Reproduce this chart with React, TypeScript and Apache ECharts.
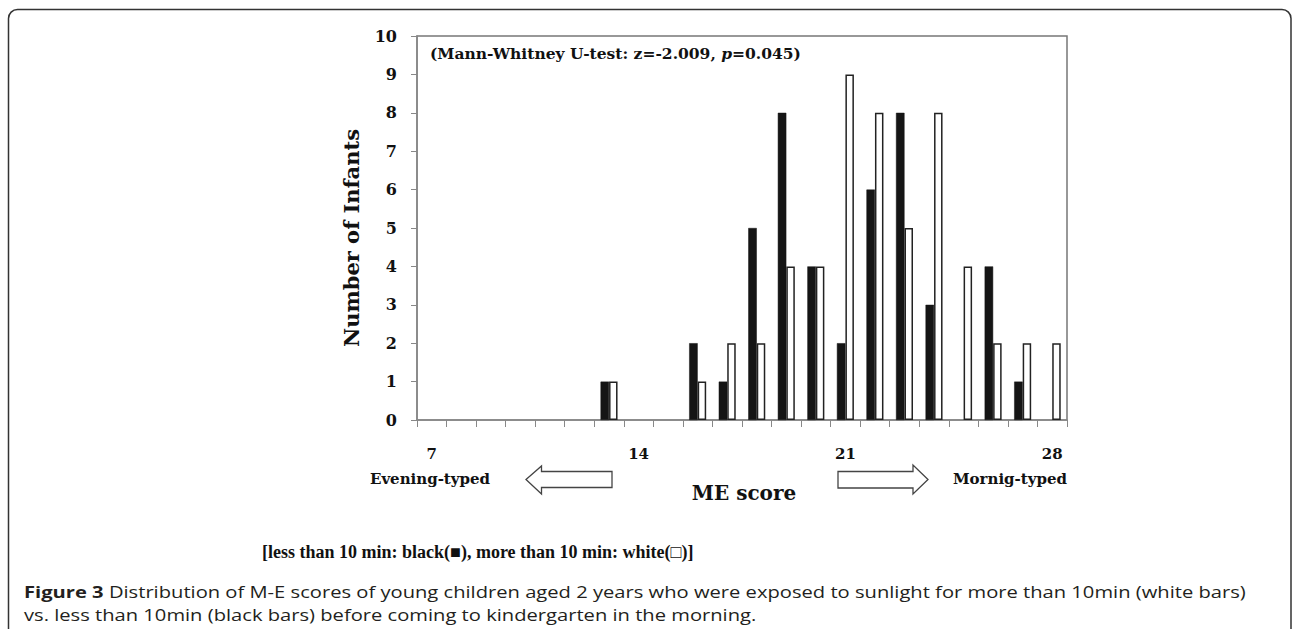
import React, { useEffect, useRef } from "react";
import * as echarts from "echarts";

const scores = ["7","8","9","10","11","12","13","14","15","16","17","18","19","20","21","22","23","24","25","26","27","28"];
const lessThan10 = [0,0,0,0,0,0,1,0,0,2,1,5,8,4,2,6,8,3,0,4,1,0];
const moreThan10 = [0,0,0,0,0,0,1,0,0,1,2,2,4,4,9,8,5,8,4,2,2,2];
const yMin = 0;
const yMax = 10;
const yStep = 1;

const statText = "(Mann-Whitney U-test: z=-2.009, ";
const statP = "p";
const statTail = "=0.045)";
const yName = "Number of Infants";
const xName = "ME score";
const leftLabel = "Evening-typed";
const rightLabel = "Mornig-typed";
const legendLine = "[less than 10 min: black(\u25A0), more than 10 min: white(\u25A1)]";
const captionBold = "Figure 3";
const captionLine1 = " Distribution of M-E scores of young children aged 2 years who were exposed to sunlight for more than 10min (white bars)";
const captionLine2 = "vs. less than 10min (black bars) before coming to kindergarten in the morning.";

const SERIF = "'DejaVu Serif', serif";
const SANS = "'Open Sans', sans-serif";

export default function App() {
  const ref = useRef<HTMLDivElement>(null);
  useEffect(() => {
    if (!ref.current) return;
    const chart = echarts.init(ref.current, undefined, { renderer: "svg" });
    const toData = (arr: number[]) => arr.map((v) => (v === 0 ? "-" : v));
    chart.setOption({
      animation: false,
      backgroundColor: "#fff",
      grid: {
        left: 417,
        top: 36,
        width: 650,
        height: 384,
        show: true,
        borderColor: "#777",
        borderWidth: 1.5,
        backgroundColor: "transparent",
      },
      xAxis: {
        type: "category",
        data: scores,
        boundaryGap: true,
        axisLine: { lineStyle: { color: "#888", width: 1.5 } },
        axisTick: { show: true, interval: 0, length: 7, lineStyle: { color: "#888" } },
        axisLabel: {
          interval: 6,
          margin: 26,
          color: "#111",
          fontFamily: SERIF,
          fontWeight: "bold",
          fontSize: 15,
        },
        splitLine: { show: false },
      },
      yAxis: {
        type: "value",
        min: yMin,
        max: yMax,
        interval: yStep,
        axisLine: { show: true, lineStyle: { color: "#888", width: 1.5 } },
        axisTick: { show: true, length: 6, lineStyle: { color: "#888" } },
        axisLabel: {
          margin: 20,
          color: "#111",
          fontFamily: SERIF,
          fontWeight: "bold",
          fontSize: 16,
        },
        splitLine: { show: false },
      },
      series: [
        {
          name: "less than 10 min",
          type: "bar",
          data: toData(lessThan10),
          barWidth: 8.5,
          barGap: "0%",
          itemStyle: { color: "#151515", borderColor: "#151515", borderWidth: 0.5 },
        },
        {
          name: "more than 10 min",
          type: "bar",
          data: toData(moreThan10),
          barWidth: 8.5,
          barGap: "0%",
          itemStyle: { color: "#ffffff", borderColor: "#222", borderWidth: 1.5 },
        },
      ],
      graphic: [
        {
          type: "rect",
          shape: { x: 8.5, y: 9.5, width: 1282.5, height: 700, r: 9 },
          style: { fill: "none", stroke: "#333", lineWidth: 1.5 },
          silent: true,
        },
        {
          type: "text",
          x: 430,
          y: 53,
          style: {
            text: "{a|" + statText + "}{b|" + statP + "}{a|" + statTail + "}",
            rich: {
              a: { fontFamily: SERIF, fontWeight: "bold", fontSize: 15.5, fill: "#111" },
              b: { fontFamily: SERIF, fontWeight: "bold", fontStyle: "italic", fontSize: 15.5, fill: "#111" },
            },
            textAlign: "left",
            textVerticalAlign: "middle",
          },
        },
        {
          type: "text",
          x: 351,
          y: 238,
          rotation: Math.PI / 2,
          style: {
            text: yName,
            fontFamily: SERIF,
            fontWeight: "bold",
            fontSize: 21,
            fill: "#111",
            textAlign: "center",
            textVerticalAlign: "middle",
          },
        },
        {
          type: "text",
          x: 430,
          y: 479,
          style: {
            text: leftLabel,
            fontFamily: SERIF,
            fontWeight: "bold",
            fontSize: 15,
            fill: "#111",
            textAlign: "center",
            textVerticalAlign: "middle",
          },
        },
        {
          type: "text",
          x: 1067,
          y: 479,
          style: {
            text: rightLabel,
            fontFamily: SERIF,
            fontWeight: "bold",
            fontSize: 15,
            fill: "#111",
            textAlign: "right",
            textVerticalAlign: "middle",
          },
        },
        {
          type: "text",
          x: 744,
          y: 493,
          style: {
            text: xName,
            fontFamily: SERIF,
            fontWeight: "bold",
            fontSize: 20,
            fill: "#111",
            textAlign: "center",
            textVerticalAlign: "middle",
          },
        },
        {
          type: "polygon",
          shape: {
            points: [
              [526, 479.5], [541.5, 466], [541.5, 471.5], [612, 471.5],
              [612, 487.5], [541.5, 487.5], [541.5, 494],
            ],
          },
          style: { fill: "#fff", stroke: "#444", lineWidth: 1.3 },
        },
        {
          type: "polygon",
          shape: {
            points: [
              [838, 471.5], [913, 471.5], [913, 465], [928, 479.5],
              [913, 494], [913, 488], [838, 488],
            ],
          },
          style: { fill: "#fff", stroke: "#444", lineWidth: 1.3 },
        },
        {
          type: "text",
          x: 262,
          y: 552,
          style: {
            text: legendLine,
            fontFamily: "'Liberation Serif', serif",
            fontWeight: "bold",
            fontSize: 18,
            fill: "#111",
            textAlign: "left",
            textVerticalAlign: "middle",
          },
        },
        {
          type: "text",
          x: 24,
          y: 592,
          scaleX: 1.26,
          style: {
            text: "{b|" + captionBold + "}{n|" + captionLine1 + "}",
            rich: {
              b: { fontFamily: SANS, fontWeight: "bold", fontSize: 16, fill: "#231f20" },
              n: { fontFamily: SANS, fontWeight: "normal", fontSize: 16, fill: "#231f20" },
            },
            textAlign: "left",
            textVerticalAlign: "middle",
          },
        },
        {
          type: "text",
          x: 24,
          y: 615,
          scaleX: 1.26,
          style: {
            text: captionLine2,
            fontFamily: SANS,
            fontSize: 16,
            fill: "#231f20",
            textAlign: "left",
            textVerticalAlign: "middle",
          },
        },
      ],
    });
    return () => chart.dispose();
  }, []);
  return (
    <div
      ref={ref}
      style={{ position: "fixed", left: 0, top: 0, width: 1292, height: 629 }}
    />
  );
}
